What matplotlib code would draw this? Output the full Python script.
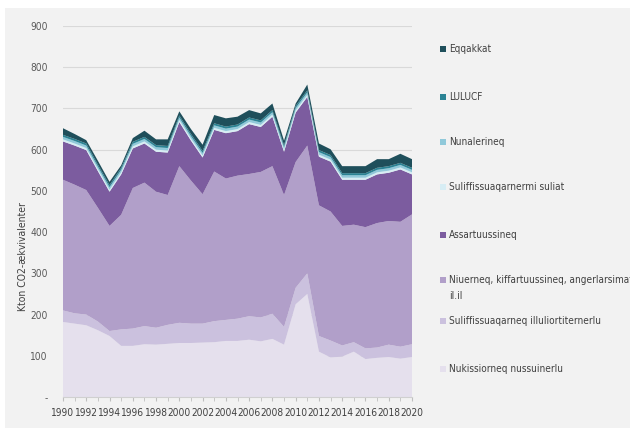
import matplotlib
matplotlib.use('Agg')
import matplotlib.pyplot as plt
from matplotlib import font_manager
from matplotlib.patches import Rectangle

# narrow face if one is installed (the source chart uses a condensed font)
narrow = None
for f in font_manager.fontManager.ttflist:
    condensed = 'Narrow' in f.name or 'Condensed' in f.name or 'condensed' in str(f.stretch)
    if condensed and f.style == 'normal' and f.weight in (400, 'normal', 'regular', 'book'):
        if narrow is None or 'Liberation' in f.name:
            narrow = f
if narrow is not None:
    plt.rcParams['font.family'] = [narrow.name, 'Liberation Sans', 'DejaVu Sans']
    plt.rcParams['font.stretch'] = narrow.stretch
    xsize, lsize = 7.3, 7.2
else:
    plt.rcParams['font.family'] = ['Liberation Sans', 'DejaVu Sans']
    xsize, lsize = 6.6, 6.6

years = list(range(1990, 2021))

# layers, bottom to top (kton CO2-eq)
nukissiorneq = [182, 178, 174, 162, 148, 124, 124, 128, 127, 129, 131, 131, 132, 133, 136, 136,
                139, 135, 141, 127, 225, 250, 110, 96, 98, 110, 92, 95, 97, 93, 97]
illuliortiternerlu = [28, 25, 26, 21, 12, 40, 42, 44, 41, 46, 49, 47, 46, 51, 51, 54,
                      57, 58, 61, 43, 40, 50, 38, 41, 27, 23, 26, 25, 30, 29, 31]
niuerneq = [317, 312, 302, 276, 255, 278, 341, 348, 330, 315, 380, 347, 314, 363, 343, 347,
            345, 353, 358, 320, 305, 310, 317, 313, 290, 285, 294, 302, 300, 303, 315]
assartuussineq = [93, 95, 97, 89, 83, 98, 96, 95, 97, 103, 107, 97, 89, 101, 110, 108,
                  121, 109, 120, 105, 120, 118, 118, 121, 112, 109, 115, 118, 117, 127, 97]
suliat = [5] * 31
nunalerineq = [6] * 31
lulucf = [5] * 31
eqqakkat = [16, 12, 8, 9, 8, 6, 9, 15, 14, 16, 10, 12, 15, 20, 20, 19,
            18, 17, 16, 11, 6, 14, 16, 14, 17, 17, 17, 21, 17, 22, 21]

layers = [nukissiorneq, illuliortiternerlu, niuerneq, assartuussineq,
          suliat, nunalerineq, lulucf, eqqakkat]
labels = ['Nukissiorneq nussuinerlu', 'Suliffissuaqarneq illuliortiternerlu',
          'Niuerneq, kiffartuussineq, angerlarsimaff', 'Assartuussineq',
          'Suliffissuaqarnermi suliat', 'Nunalerineq', 'LULUCF', 'Eqqakkat']
colors = ['#e5e0ed', '#cbc1de', '#b19fc9', '#7c5c9f',
          '#d7edf4', '#90c9da', '#2b8394', '#1f4f5b']

figure = plt.figure(figsize=(6.3, 4.28), dpi=100)
figure.patch.set_facecolor('white')
figure.patches.append(Rectangle((5 / 630, 0), 1, 1 - 8 / 428, transform=figure.transFigure,
                                facecolor='#f2f2f2', edgecolor='none', zorder=-10))

ax = figure.add_axes([63 / 630, 31 / 428, 349 / 630, 371 / 428])
ax.set_facecolor('none')
ax.stackplot(years, *layers, colors=colors, linewidth=0)

ax.set_xlim(1990, 2020)
ax.set_ylim(0, 900)
ax.set_yticks(range(0, 901, 100))
ax.set_yticklabels(['-'] + [str(v) for v in range(100, 901, 100)])
ax.set_xticks(range(1990, 2021, 2))
ax.set_xticks(range(1990, 2021), minor=True)
ax.grid(axis='y', color='#d9d9d9', linewidth=0.8)
ax.set_axisbelow(True)
for side in ['top', 'right', 'left']:
    ax.spines[side].set_visible(False)
ax.spines['bottom'].set_color('#d0d0d0')
ax.tick_params(axis='y', length=0, pad=11, labelsize=xsize, labelcolor='#595959')
ax.tick_params(axis='x', which='both', length=3, color='#bfbfbf', labelsize=xsize,
               labelcolor='#404040', pad=5)
figure.text(23 / 630, 1 - 257 / 428, 'Kton CO2-ækvivalenter', fontsize=7.5, color='#404040',
            rotation=90, ha='center', va='center')

# legend, top entry first
legend_y = [49, 97, 142, 187, 235, 280, 321, 369]
for y, lab, col in zip(legend_y, labels[::-1], colors[::-1]):
    figure.patches.append(Rectangle((440 / 630, 1 - (y + 3) / 428), 6 / 630, 6 / 428,
                                    transform=figure.transFigure, facecolor=col, edgecolor='none'))
    figure.text(449 / 630, 1 - y / 428, lab, fontsize=lsize, color='#404040', va='center')
figure.text(449 / 630, 1 - 296 / 428, 'il.il', fontsize=lsize, color='#404040', va='center')

figure.savefig('out.png', dpi=100)
